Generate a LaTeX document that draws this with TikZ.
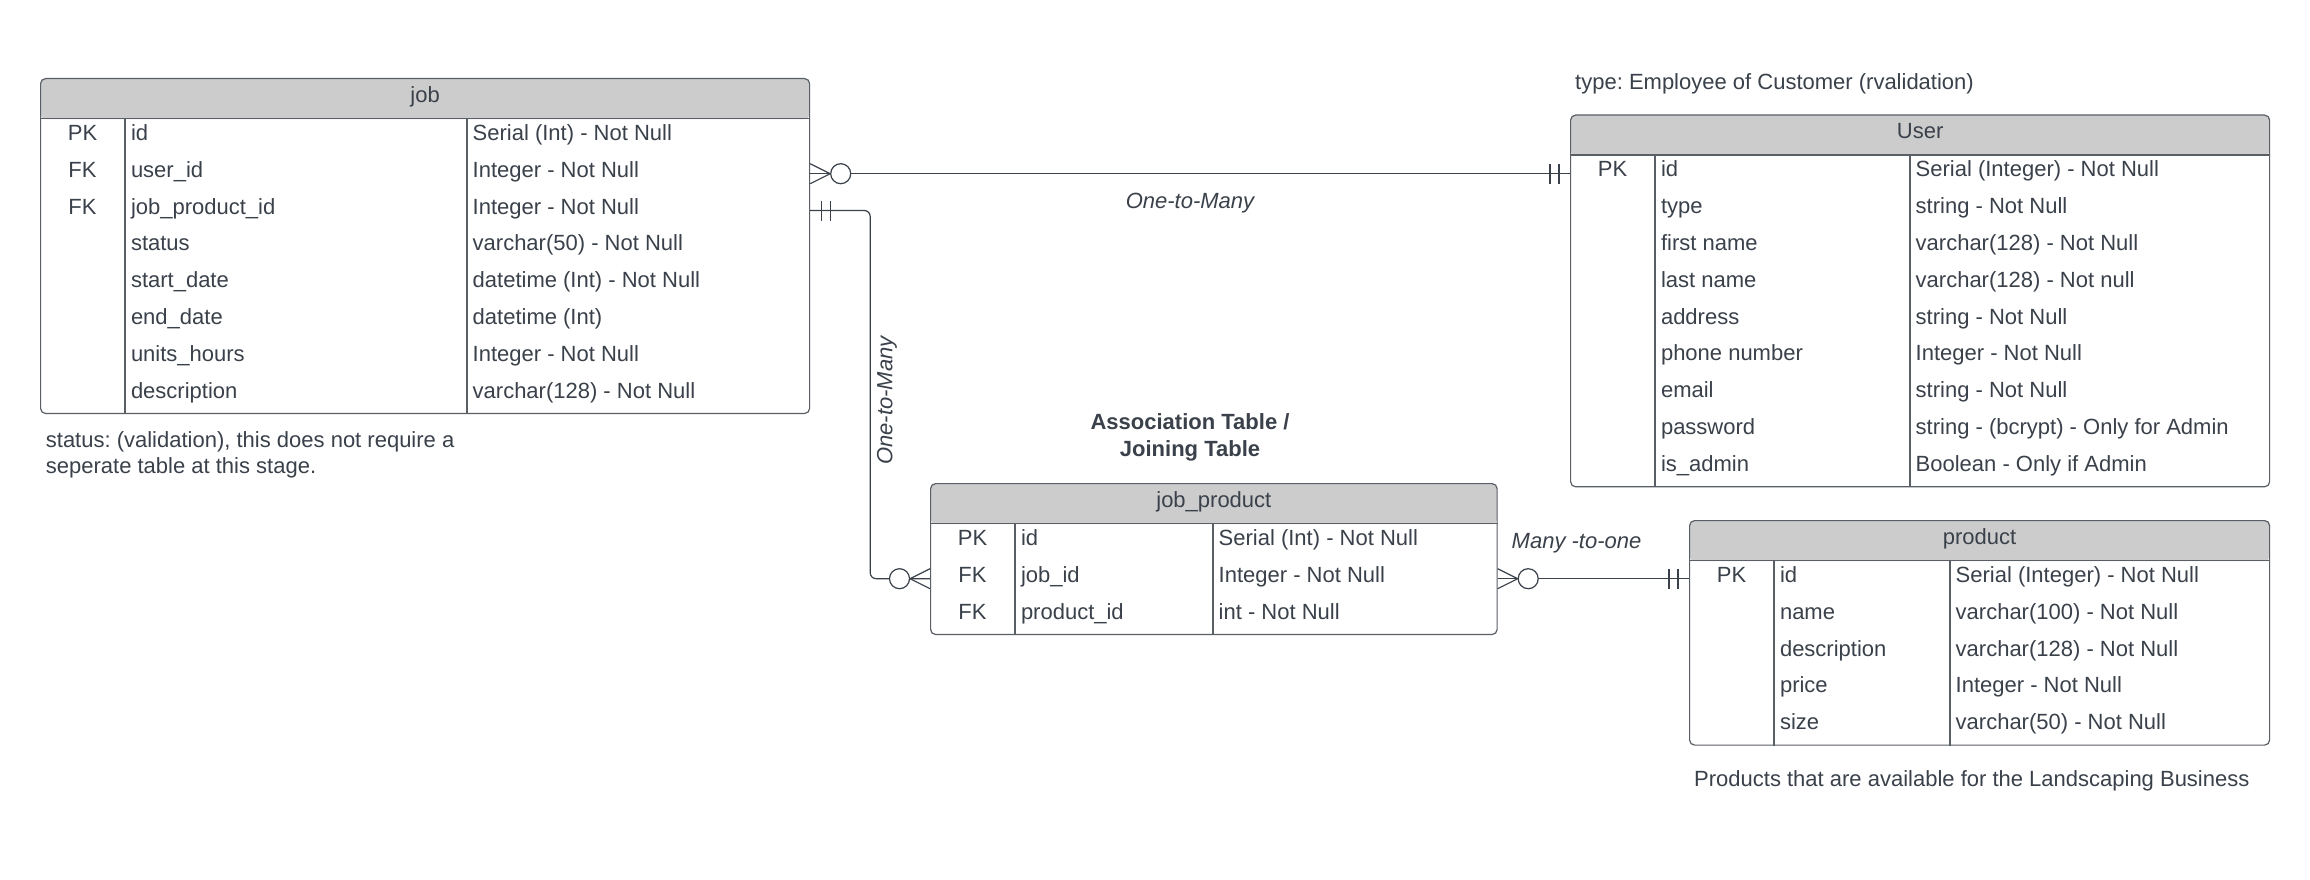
\documentclass[tikz,border=0pt]{standalone}
\usepackage{fontspec}
\setmainfont{Liberation Sans}
\usetikzlibrary{calc}
\definecolor{txtc}{HTML}{3A414A}
\definecolor{linec}{HTML}{5A5F66}
\definecolor{hdrfill}{HTML}{CCCCCC}
\definecolor{connc}{HTML}{3A414A}
\frenchspacing

\tikzset{
  tbl/.style={draw=linec, line width=1.2pt, rounded corners=5pt, fill=white, inner sep=0pt,
    path picture={\fill[hdrfill] ([yshift=-40.5pt]path picture bounding box.north west) rectangle (path picture bounding box.north east);}},
  tline/.style={draw=linec, line width=1.2pt},
  conn/.style={draw=connc, line width=1.2pt},
  lbl/.style={font=\fontsize{22}{26.5}\selectfont\itshape},
  boldlbl/.style={font=\fontsize{22}{26.5}\selectfont\bfseries},
}

% #1 name, #2 left x, #3 top y, #4 width, #5 second divider offset, #6 rows, #7 title, #8 row list
\newcommand{\ertable}[8]{%
  \node[tbl, minimum width=#4pt, minimum height={40.5pt+#6*36.8pt}, anchor=north west] (#1) at (#2,-#3) {};
  \node[anchor=base] (#1-title) at ($(#1.north)+(0,-24.25)$) {#7};
  \draw[tline] ([yshift=-40.5pt]#1.north west) -- ([yshift=-40.5pt]#1.north east);
  \draw[tline] ([shift={(85pt,-40.5pt)}]#1.north west) -- ([xshift=85pt]#1.south west);
  \draw[tline] ([shift={(#5pt,-40.5pt)}]#1.north west) -- ([xshift=#5pt]#1.south west);
  \foreach \k/\f/\t [count=\i] in {#8} {%
    \coordinate (#1-r\i) at ($(#1.north west)+(0,{-40.5-(\i-0.5)*36.8})$);
    \node[anchor=base] (#1-k\i) at ($(#1-r\i)+(42.5,-3.5)$) {\k};
    \node[anchor=base west] (#1-f\i) at ($(#1-r\i)+(90.8,-3.5)$) {\f};
    \node[anchor=base west] (#1-t\i) at ($(#1-r\i)+({#5+5.5},-3.5)$) {\t};
  }%
}

\newcommand{\crowzero}[2]{%
  \draw[conn] ($(#1)+(0,10)$) -- ($(#1)+(#2*20,0)$) -- ($(#1)+(0,-10)$);
  \draw[conn] (#1) -- ($(#1)+(#2*20,0)$);
  \draw[conn, fill=white] ($(#1)+(#2*30.5,0)$) circle[radius=10pt];}

\newcommand{\onebar}[2]{%
  \draw[conn] ($(#1)+(#2*11,10)$) -- ($(#1)+(#2*11,-10)$);
  \draw[conn] ($(#1)+(#2*20,10)$) -- ($(#1)+(#2*20,-10)$);}

\begin{document}
\begin{tikzpicture}[x=1pt, y=1pt, font=\fontsize{22}{26.5}\selectfont,
  every node/.append style={inner sep=0pt, text=txtc}]
\fill[white] (0,0) rectangle (2310,-880);
\useasboundingbox (0,0) rectangle (2310,-880);

\ertable{job}{40}{78}{769}{427}{8}{job}{%
  PK/id/{Serial (Int) - Not Null},
  FK/user\_id/{Integer - Not Null},
  FK/job\_product\_id/{Integer - Not Null},
  {}/status/{varchar(50) - Not Null},
  {}/start\_date/{datetime (Int) - Not Null},
  {}/end\_date/{datetime (Int)},
  {}/units\_hours/{Integer - Not Null},
  {}/description/{varchar(128) - Not Null}}

\ertable{user}{1570}{114.5}{699}{340}{9}{User}{%
  PK/id/{Serial (Integer) - Not Null},
  {}/type/{string - Not Null},
  {}/first name/{varchar(128) - Not Null},
  {}/last name/{varchar(128) - Not null},
  {}/address/{string - Not Null},
  {}/phone number/{Integer - Not Null},
  {}/email/{string - Not Null},
  {}/password/{string - (bcrypt) - Only for Admin},
  {}/is\_admin/{Boolean - Only if Admin}}

\ertable{jp}{930}{483}{566.5}{283}{3}{job\_product}{%
  PK/id/{Serial (Int) - Not Null},
  FK/job\_id/{Integer - Not Null},
  FK/product\_id/{int - Not Null}}

\ertable{product}{1689}{520}{580}{261}{5}{product}{%
  PK/id/{Serial (Integer) - Not Null},
  {}/name/{varchar(100) - Not Null},
  {}/description/{varchar(128) - Not Null},
  {}/price/{Integer - Not Null},
  {}/size/{varchar(50) - Not Null}}

% connector end points
\coordinate (p1) at (job.east |- job-r2);
\coordinate (p2) at (user.west |- p1);
\coordinate (p3) at (job.east |- job-r3);
\coordinate (p4) at (jp.west |- jp-r2);
\coordinate (p5) at (jp.east |- jp-r2);
\coordinate (p6) at (product.west |- p5);

\draw[conn] (p1) -- (p2);
\draw[conn, rounded corners=6pt] (p3) -- ++(60,0) |- (p4);
\draw[conn] (p5) -- (p6);

\crowzero{p1}{1}
\onebar{p2}{-1}
\onebar{p3}{1}
\crowzero{p4}{-1}
\crowzero{p5}{1}
\onebar{p6}{-1}

% labels
\node[lbl, anchor=base] (l1) at (1190,-208) {One-to-Many};
\node[lbl, rotate=90] (l2) at (887,-400.7) {One-to-Many};
\node[lbl, anchor=base west] (l3) at (1511.5,-548.5) {Many -to-one};
\node[boldlbl, anchor=base] (t1) at (1190,-429) {Association Table /};
\node[boldlbl, anchor=base] (t2) at (1190,-456) {Joining Table};

% notes
\node[anchor=base west] (n1) at (1575,-90) {type: Employee of Customer (rvalidation)};
\node[anchor=base west] (n2) at (45.7,-447) {status: (validation), this does not require a};
\node[anchor=base west] (n3) at (45.7,-473.5) {seperate table at this stage.};
\node[anchor=base west] (n4) at (1694,-786) {Products that are available for the Landscaping Business};
\end{tikzpicture}
\end{document}
